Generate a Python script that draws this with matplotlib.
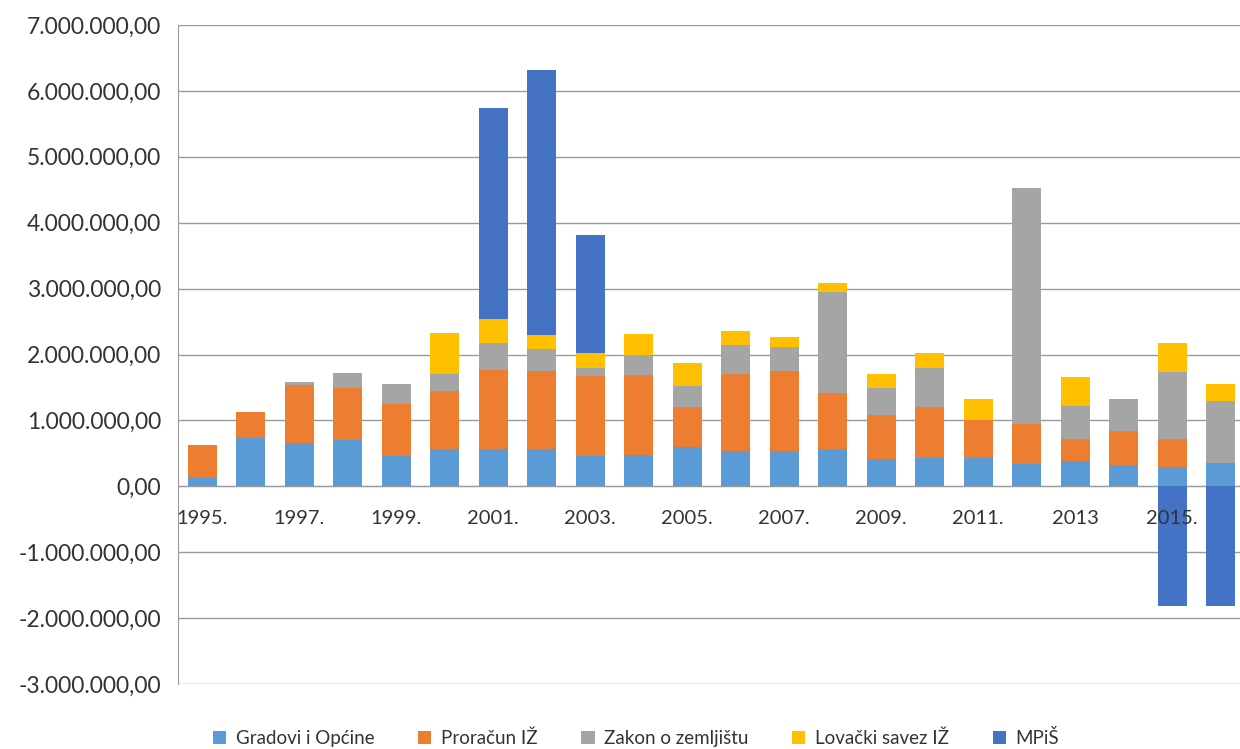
import matplotlib
matplotlib.use("Agg")
import matplotlib.pyplot as plt
import numpy as np
from matplotlib.ticker import FuncFormatter, MultipleLocator

years = [str(y) for y in range(1995, 2017)]
tick_labels = ["1995.", "", "1997.", "", "1999.", "", "2001.", "", "2003.", "",
               "2005.", "", "2007.", "", "2009.", "", "2011.", "", "2013", "",
               "2015.", ""]

series_names = ["Gradovi i Općine", "Proračun IŽ", "Zakon o zemljištu",
                "Lovački savez IŽ", "MPiŠ"]

gradovi = [130000, 740000, 660000, 700000, 460000, 560000, 560000, 560000,
           460000, 480000, 590000, 540000, 540000, 560000, 410000, 430000,
           430000, 340000, 390000, 320000, 290000, 360000]
proracun = [490000, 390000, 870000, 790000, 790000, 890000, 1210000, 1190000,
            1220000, 1210000, 620000, 1160000, 1210000, 850000, 670000, 780000,
            570000, 610000, 330000, 520000, 430000, 0]
zakon = [0, 0, 50000, 230000, 300000, 260000, 410000, 340000,
         110000, 310000, 310000, 440000, 360000, 1540000, 410000, 590000,
         0, 3570000, 500000, 490000, 1010000, 940000]
lovacki = [0, 0, 0, 0, 0, 610000, 360000, 210000,
           240000, 310000, 350000, 210000, 160000, 140000, 220000, 220000,
           330000, 0, 440000, 0, 450000, 250000]
mpis = [0, 0, 0, 0, 0, 0, 3200000, 4010000,
        1790000, 0, 0, 0, 0, 0, 0, 0,
        0, 0, 0, 0, -1820000, -1820000]

colors = ["#5B9BD5", "#ED7D31", "#A5A5A5", "#FFC000", "#4472C4"]
text_col = '#333333'

plt.rcParams['font.family'] = ['Lato', 'DejaVu Sans']

fig = plt.figure(figsize=(12.4, 7.49), dpi=100)
ax = fig.add_axes([178 / 1240, (749 - 684) / 749, (22 * 48.5) / 1240, (684 - 25) / 749])

x = np.arange(len(years))
w = 0.6
all_series = [gradovi, proracun, zakon, lovacki, mpis]
pos_bottom = np.zeros(len(years))
neg_bottom = np.zeros(len(years))
for vals, col, name in zip(all_series, colors, series_names):
    v = np.array(vals, dtype=float)
    bottom = np.where(v >= 0, pos_bottom, neg_bottom)
    ax.bar(x, v, w, bottom=bottom, color=col, label=name, zorder=3)
    pos_bottom += np.where(v > 0, v, 0)
    neg_bottom += np.where(v < 0, v, 0)

ax.set_xlim(-0.5, len(years) - 0.5)
ax.set_ylim(-3000000, 7000000)
ax.yaxis.set_major_locator(MultipleLocator(1000000))

def fmt(v, pos):
    s = f"{abs(v):,.2f}".replace(",", "X").replace(".", ",").replace("X", ".")
    return ("-" if v < 0 else "") + s

ax.yaxis.set_major_formatter(FuncFormatter(fmt))
ax.grid(axis='y', color='#9a9a9a', linewidth=1.0, zorder=0)
ax.set_xticks(x)
ax.set_xticklabels(tick_labels)
ax.spines['bottom'].set_position(('data', 0))
ax.spines['bottom'].set_color('#9a9a9a')
ax.spines['bottom'].set_zorder(2)
ax.spines['left'].set_color('#9a9a9a')
ax.spines['top'].set_visible(False)
ax.spines['right'].set_visible(False)
ax.xaxis.set_zorder(5)
ax.tick_params(axis='x', length=0, pad=17, labelsize=14.5, colors=text_col)
ax.tick_params(axis='y', length=0, pad=12, labelsize=16.5, colors=text_col)

handles, labels = ax.get_legend_handles_labels()
fig.legend(handles, labels, loc='center', bbox_to_anchor=(636 / 1240, 1 - 738 / 749),
           ncol=5, frameon=False, fontsize=13.5, handlelength=0.7, handleheight=0.7,
           columnspacing=2.35, handletextpad=0.5, labelcolor=text_col)

fig.savefig("out.png", dpi=100)
